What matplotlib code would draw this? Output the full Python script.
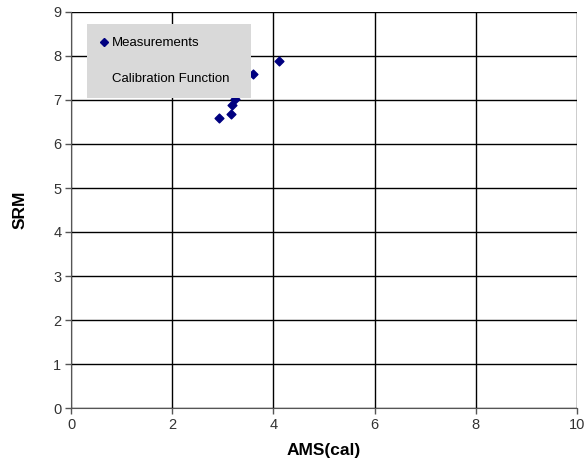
import matplotlib.pyplot as plt
from matplotlib.lines import Line2D

plt.rcParams['font.family'] = ['Liberation Sans', 'DejaVu Sans']

ams_cal = [2.92, 3.16, 3.18, 3.24, 3.60, 4.12]
srm = [6.59, 6.68, 6.89, 7.02, 7.59, 7.88]

x_ticks = [0, 2, 4, 6, 8, 10]
y_ticks = [0, 1, 2, 3, 4, 5, 6, 7, 8, 9]

fig = plt.figure(figsize=(5.87, 4.63), dpi=100)
ax = fig.add_axes([71 / 587, 55 / 463, 506 / 587, 396 / 463])

ax.scatter(ams_cal, srm, marker='D', s=20, color='#000080', zorder=3, label='Measurements')

ax.set_xlim(0, 10)
ax.set_ylim(0, 9)
ax.set_xticks(x_ticks)
ax.set_yticks(y_ticks)
ax.grid(True, color='black', linewidth=1)
ax.set_axisbelow(True)
for side in ['top', 'right']:
    ax.spines[side].set_visible(False)
for side in ['left', 'bottom']:
    ax.spines[side].set_color('#555555')
ax.tick_params(direction='out', length=4, width=1, color='#555555', labelsize=10.5, labelcolor='#333333', pad=3)

ax.set_xlabel('AMS(cal)', fontsize=12.5, fontweight='bold', labelpad=8)
ax.set_ylabel('SRM', fontsize=12.5, fontweight='bold', labelpad=18)

calib = Line2D([], [], linestyle='none', marker=None)
handles = [Line2D([], [], linestyle='none', marker='D', markersize=4, color='#000080'), calib]
leg = ax.legend(handles, ['Measurements', 'Calibration Function'],
                loc='upper left', bbox_to_anchor=(0.031, 0.786, 0.324, 0.184), mode='expand',
                fontsize=9.5, frameon=True, fancybox=False, framealpha=1, facecolor='#d9d9d9',
                edgecolor='none', handlelength=0.6, handletextpad=0.3,
                labelspacing=1.75, borderpad=1.0, borderaxespad=0)
leg.set_zorder(5)

fig.savefig('out.png', dpi=100)
